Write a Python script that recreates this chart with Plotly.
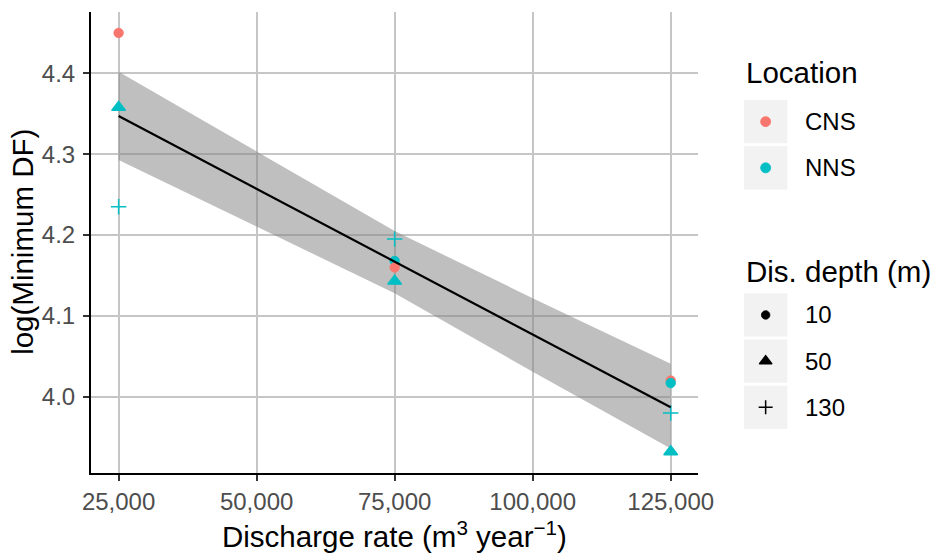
import numpy as np
import plotly.graph_objects as go

# ---- data -------------------------------------------------------------
rate = [25000, 25000, 25000, 75000, 75000, 75000, 75000,
        125000, 125000, 125000, 125000]
location = ["CNS", "NNS", "NNS", "NNS", "CNS", "NNS", "NNS",
            "CNS", "NNS", "NNS", "NNS"]
depth = [10, 50, 130, 10, 10, 50, 130, 10, 10, 50, 130]
log_min_df = [4.450, 4.358, 4.235, 4.168, 4.160, 4.143, 4.195,
              4.020, 4.017, 3.932, 3.980]

# 95% confidence band of the linear fit
band_rate = [25000, 50000, 75000, 100000, 125000]
band_lower = [4.293, 4.211, 4.128, 4.031, 3.936]
band_upper = [4.402, 4.303, 4.205, 4.122, 4.041]

locations = ["CNS", "NNS"]
depths = [10, 50, 130]
x_ticks = [25000, 50000, 75000, 100000, 125000]
y_ticks = [4.0, 4.1, 4.2, 4.3, 4.4]

# ---- styles -----------------------------------------------------------
W, H = 931, 553
FONT = "Liberation Sans, Arial, sans-serif"
loc_colour = {"CNS": "#F8766D", "NNS": "#00BFC4"}
depth_symbol = {10: "circle", 50: "triangle-up", 130: "cross-thin"}
depth_size = {10: 9.5, 50: 12, 130: 11}
depth_line = {10: 0.8, 50: 1.4, 130: 1.5}

# panel in pixels
PL, PR, PT, PB = 91, 698.3, 12, 472.7


def expand(vals, frac=0.05):
    lo, hi = min(vals), max(vals)
    pad = (hi - lo) * frac
    return [lo - pad, hi + pad]


fig = go.Figure()

# confidence band
fig.add_trace(go.Scatter(
    x=band_rate + band_rate[::-1],
    y=band_upper + band_lower[::-1],
    fill="toself", fillcolor="rgba(128,128,128,0.5)",
    line=dict(width=0), mode="lines", hoverinfo="skip", showlegend=False,
))

# observations, drawn in row order
cols = [loc_colour[l] for l in location]
fig.add_trace(go.Scatter(
    x=rate, y=log_min_df, mode="markers", showlegend=False, opacity=1,
    marker=dict(
        color=cols, opacity=1,
        symbol=[depth_symbol[d] for d in depth],
        size=[depth_size[d] for d in depth],
        line=dict(color=cols, width=[depth_line[d] for d in depth]),
    ),
))

# least-squares line
slope, intercept = np.polyfit(np.array(rate, float), np.array(log_min_df), 1)
fit_x = np.array([min(rate), max(rate)], float)
fig.add_trace(go.Scatter(
    x=fit_x, y=slope * fit_x + intercept, mode="lines",
    line=dict(color="black", width=2.2), showlegend=False, hoverinfo="skip",
))

# ---- legend (drawn on a pixel-space overlay axis) ---------------------
KEY_L, KEY_W, KEY_H, KEY_PITCH = 744, 43.3, 43.3, 46.2
LABEL_X = 803
legend_blocks = [
    ("Location", 72, 100.0,
     [(l, loc_colour[l], "circle", 10, 0.8) for l in locations]),
    ("Dis. depth (m)", 271, 293.3,
     [(str(d), "black", depth_symbol[d], depth_size[d] - 1, depth_line[d])
      for d in depths]),
]
shapes, annots = [], []
for title, title_y, top, items in legend_blocks:
    annots.append(dict(x=KEY_L, y=title_y, xref="x2", yref="y2", text=title,
                       showarrow=False, xanchor="left", yanchor="middle",
                       font=dict(family=FONT, size=29.5, color="black")))
    kx, ky, kc, ks, kz, kw = [], [], [], [], [], []
    for i, (lab, colour, sym, size, lw) in enumerate(items):
        y0 = top + i * KEY_PITCH
        shapes.append(dict(type="rect", xref="x2", yref="y2",
                           x0=KEY_L, x1=KEY_L + KEY_W, y0=y0, y1=y0 + KEY_H,
                           fillcolor="#F2F2F2", line=dict(width=0),
                           layer="below"))
        yc = y0 + KEY_H / 2
        kx.append(KEY_L + KEY_W / 2); ky.append(yc)
        kc.append(colour); ks.append(sym); kz.append(size); kw.append(lw)
        annots.append(dict(x=LABEL_X, y=yc, xref="x2", yref="y2", text=lab,
                           showarrow=False, xanchor="left", yanchor="middle",
                           font=dict(family=FONT, size=24, color="black")))
    fig.add_trace(go.Scatter(
        x=kx, y=ky, xaxis="x2", yaxis="y2", mode="markers",
        showlegend=False, hoverinfo="skip",
        marker=dict(color=kc, symbol=ks, size=kz, opacity=1,
                    line=dict(color=kc, width=kw)),
    ))

# axis titles
annots.append(dict(
    x=(PL + PR) / 2 / W, y=(H - 534) / H, xref="paper", yref="paper",
    text="Discharge rate (m<sup>3</sup> year<sup>\u22121</sup>)",
    showarrow=False, xanchor="center", yanchor="middle",
    font=dict(family=FONT, size=29.5, color="black")))
annots.append(dict(
    x=22.5 / W, y=(H - (PT + PB) / 2) / H, xref="paper", yref="paper",
    text="log(Minimum DF)", textangle=-90,
    showarrow=False, xanchor="center", yanchor="middle",
    font=dict(family=FONT, size=29.5, color="black")))

axis_common = dict(
    showline=True, linecolor="black", linewidth=2, automargin=False,
    ticks="outside", ticklen=6, tickwidth=2, tickcolor="#333333",
    showgrid=True, gridcolor="#C6C6C6", gridwidth=1.9, zeroline=False,
    tickfont=dict(family=FONT, size=24, color="#4D4D4D"),
)

fig.update_layout(
    template="none",
    width=W, height=H, margin=dict(l=0, r=0, t=0, b=0, pad=0),
    paper_bgcolor="white", plot_bgcolor="rgba(0,0,0,0)",
    showlegend=False,
    xaxis=dict(domain=[PL / W, PR / W], range=expand(rate),
               tickvals=x_ticks, tickformat=",d", **axis_common),
    yaxis=dict(domain=[(H - PB) / H, (H - PT) / H], range=expand(log_min_df),
               tickvals=y_ticks, tickformat=".1f", ticklabelstandoff=3,
               **axis_common),
    xaxis2=dict(domain=[0, 1], range=[0, W], visible=False, fixedrange=True,
                automargin=False),
    yaxis2=dict(domain=[0, 1], range=[H, 0], visible=False, fixedrange=True,
                anchor="x2", automargin=False),
    shapes=shapes, annotations=annots,
)

fig.write_html("out.html")
